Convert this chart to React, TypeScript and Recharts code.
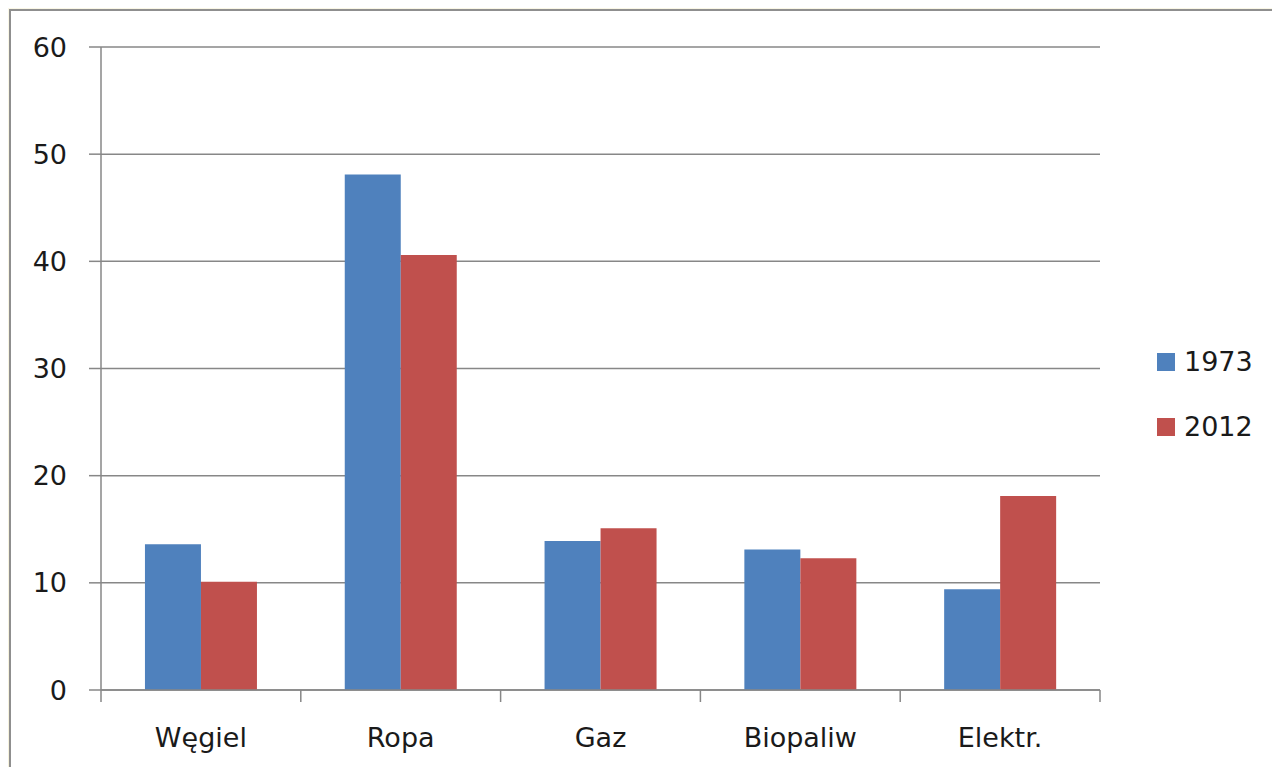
import { BarChart, Bar, XAxis, YAxis, CartesianGrid, Legend } from 'recharts';

const categories = ['Węgiel', 'Ropa', 'Gaz', 'Biopaliw', 'Elektr.'];
const values1973 = [13.6, 48.1, 13.9, 13.1, 9.4];
const values2012 = [10.1, 40.6, 15.1, 12.3, 18.1];
const yTicks = [0, 10, 20, 30, 40, 50, 60];

const data = categories.map((name, i) => ({ name, y1973: values1973[i], y2012: values2012[i] }));

const FONT = '"DejaVu Sans", Verdana, sans-serif';
const AXIS = '#878787';
const TICK_SIZE = 12;
const TICK_MARGIN = 25;

// category labels + tick marks on the group boundaries
const CategoryTick = (props: any) => {
  const { x, y, payload, index, visibleTicksCount } = props;
  const half = payload.offset || 0;
  const axisY = y - TICK_SIZE - TICK_MARGIN;
  return (
    <g>
      <line x1={x - half} x2={x - half} y1={axisY} y2={axisY + TICK_SIZE} stroke={AXIS} strokeWidth={1.5} />
      {index === visibleTicksCount - 1 && (
        <line x1={x + half} x2={x + half} y1={axisY} y2={axisY + TICK_SIZE} stroke={AXIS} strokeWidth={1.5} />
      )}
      <text x={x} y={y} dy="0.74em" textAnchor="middle" fill="#1a1a1a" fontSize={27} fontFamily={FONT}>
        {payload.value}
      </text>
    </g>
  );
};

const LegendBox = (props: any) => (
  <div style={{ width: 120 }}>
    {props.payload.map((p: any) => (
      <div key={p.value} style={{ display: 'flex', alignItems: 'center', height: 65, fontFamily: FONT, fontSize: 27, color: '#1a1a1a' }}>
        <span style={{ width: 18, height: 18, background: p.color, marginRight: 9, display: 'inline-block' }} />
        {p.value}
      </div>
    ))}
  </div>
);

export default function App() {
  return (
    <div style={{ position: 'relative', width: 1280, height: 775, margin: -8, overflow: 'hidden', background: 'linear-gradient(#faf7e6, #f6f2dc)' }}>
      <div style={{ position: 'absolute', left: 9, top: 9, width: 1290, height: 790, background: '#fff', borderLeft: '2px solid #8f8f8f', borderTop: '2px solid #8f8f8f' }} />
      <div style={{ position: 'absolute', left: 0, top: 0 }}>
        <BarChart width={1280} height={775} data={data} margin={{ top: 47, right: 60, bottom: 0, left: 0 }} barCategoryGap="22%" barGap={0}>
          <CartesianGrid vertical={false} stroke={AXIS} strokeWidth={1.5} />
          <XAxis
            dataKey="name"
            height={85}
            tickLine={false}
            tickSize={TICK_SIZE}
            tickMargin={TICK_MARGIN}
            axisLine={{ stroke: AXIS, strokeWidth: 1.5 }}
            tick={<CategoryTick />}
            interval={0}
          />
          <YAxis
            width={101}
            domain={[0, 60]}
            ticks={yTicks}
            tickSize={TICK_SIZE}
            tickMargin={22}
            axisLine={{ stroke: AXIS, strokeWidth: 1.5 }}
            tickLine={{ stroke: AXIS, strokeWidth: 1.5 }}
            tick={{ fill: '#1a1a1a', fontSize: 27, fontFamily: FONT }}
          />
          <Legend
            layout="vertical"
            align="right"
            verticalAlign="middle"
            content={<LegendBox />}
            wrapperStyle={{ position: 'absolute', left: 1157, top: 329, width: 120 }}
          />
          <Bar dataKey="y1973" name="1973" fill="#4f81bd" isAnimationActive={false} />
          <Bar dataKey="y2012" name="2012" fill="#c0504d" isAnimationActive={false} />
        </BarChart>
      </div>
    </div>
  );
}
